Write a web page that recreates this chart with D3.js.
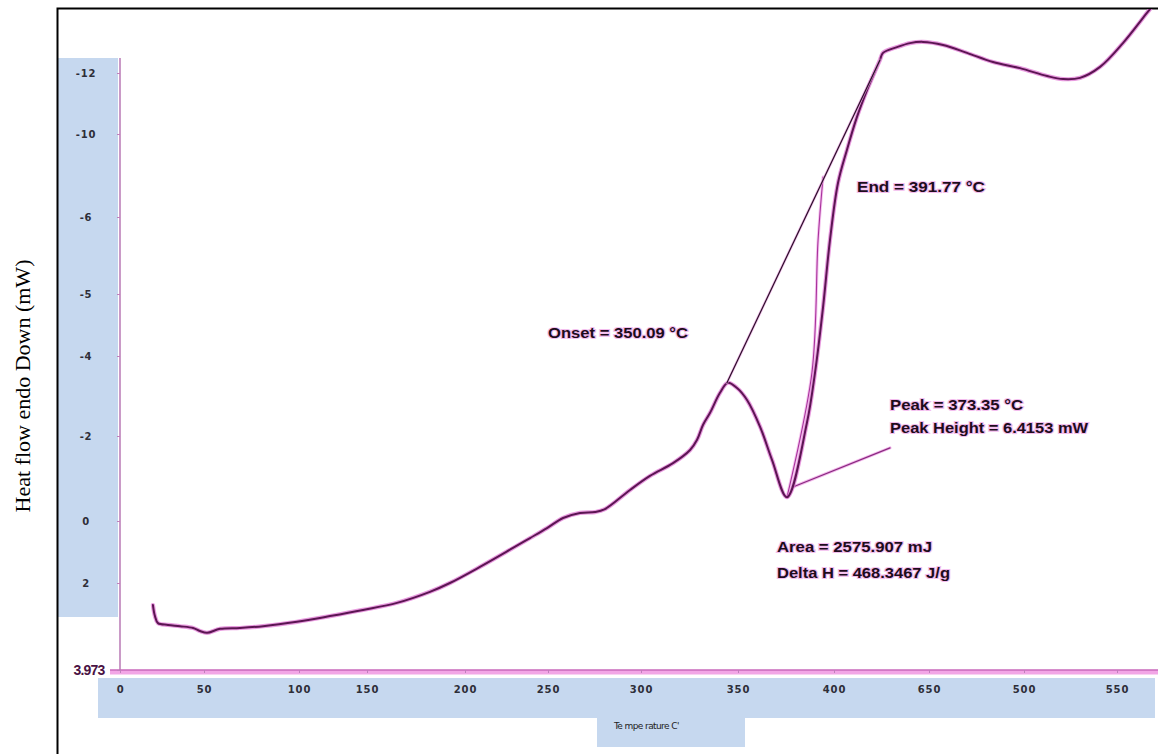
<!DOCTYPE html>
<html>
<head>
<meta charset="utf-8">
<script src="https://cdn.jsdelivr.net/npm/d3@7"></script>
<style>
  body { margin: 0; background: #fff; }
  svg { display: block; }
</style>
</head>
<body>
<div id="graph"></div>
<script>
//DSC trace: temperature (C) vs heat flow (mW)
const tempC = [19.6, 20.8, 22.6, 28.6, 35.7, 43.5, 47.6, 51.6, 58.4, 68.9, 81.1, 98.9, 122.8, 147.1, 165.3, 182.1, 192.3, 209.0, 228.9, 239.2, 249.4, 258.1, 267.2, 275.3, 280.6, 294.1, 304.6, 316.5, 325.3, 328.9, 332.0, 335.6, 340.7, 344.8, 349.5, 354.7, 361.5, 367.7, 375.5, 385.9, 390.1, 394.3, 397.9, 402.1, 406.8, 412.1, 417.4, 424.2, 425.8, 433.2, 440.0, 446.8, 457.4, 470.0, 483.7, 497.9, 512.4, 521.0, 530.1, 540.9, 553.2, 566.1, 570.4];
const heatFlow = [2.50, 2.75, 2.91, 2.95, 2.98, 3.02, 3.09, 3.13, 3.04, 3.02, 2.98, 2.88, 2.75, 2.61, 2.45, 2.20, 2.00, 1.48, 0.87, 0.55, 0.23, -0.07, -0.19, -0.21, -0.28, -0.73, -1.06, -1.36, -1.67, -1.91, -2.28, -2.58, -3.08, -3.33, -3.20, -2.90, -2.23, -1.44, -0.56, -2.33, -3.58, -4.79, -5.70, -7.64, -9.23, -10.56, -11.44, -12.43, -12.66, -12.85, -12.98, -13.02, -12.92, -12.66, -12.36, -12.16, -11.90, -11.80, -11.84, -12.20, -12.98, -13.97, -14.30];

//onset tangent, peak integration line, leader to the peak note
const tangentT = [344.3, 424.2];
const tangentHF = [-3.33, -12.43];
const endLineT = [375.5, 388.5, 391.7, 394.3];
const endLineHF = [-0.56, -3.58, -5.70, -7.93];
const leaderT = [378.6, 429.5];
const leaderHF = [-0.80, -1.72];

//notes
const noteText = ["Onset = 350.09 °C", "End = 391.77 °C", "Peak = 373.35 °C", "Peak Height = 6.4153 mW", "Area = 2575.907 mJ", "Delta H = 468.3467 J/g"];
const noteT = [250.0, 412.1, 429.5, 429.5, 370.3, 370.3];
const noteHF = [-4.29, -7.20, -2.65, -2.08, 1.00, 1.84];

//ticks (as printed on the scan)
const xTickValues = [0, 50, 100, 150, 200, 250, 300, 350, 400, 450, 500, 550];
const xTickLabels = ["0", "50", "100", "150", "200", "250", "300", "350", "400", "650", "500", "550"];
const yTickValues = [3.973, 2, 0, -2, -4, -5, -6, -10, -12];
const yTickLabels = ["3.973", "2", "0", "-2", "-4", "-5", "-6", "-10", "-12"];

//layout
const W = 1158;
const H = 754;
const xTickPos = [120, 204, 299, 367, 465, 548, 641, 738, 834, 929, 1024, 1117];
const yTickPos = [670, 583, 521, 436, 356, 294, 217, 134, 73];
const noteWidth = [140, 128, 133, 198, 155, 173];
const blue = "#c6d8ef";

//scales (the printed axes are not evenly spaced, so piecewise)
const xScale = d3.scaleLinear().domain(xTickValues).range(xTickPos);
const yScale = d3.scaleLinear().domain(yTickValues).range(yTickPos);

const chart = d3.select("#graph")
  .append("svg")
  .attr("width", W)
  .attr("height", H);

chart.append("defs").append("clipPath")
  .attr("id", "plotClip")
  .append("rect")
  .attr("x", 58).attr("y", 9)
  .attr("width", W - 58).attr("height", 700);

//blue label panels
chart.append("rect")
  .attr("x", 57).attr("y", 58)
  .attr("width", 61).attr("height", 559)
  .attr("fill", blue);
chart.append("rect")
  .attr("x", 98).attr("y", 678)
  .attr("width", 1057).attr("height", 40)
  .attr("fill", blue);
chart.append("rect")
  .attr("x", 597).attr("y", 717)
  .attr("width", 148).attr("height", 30)
  .attr("fill", blue);

//frame
chart.append("path")
  .attr("d", "M57.5," + H + "V8.5H" + W)
  .attr("fill", "none")
  .attr("stroke", "#000")
  .attr("stroke-width", 2);

//axis lines
chart.append("line")
  .attr("x1", 110).attr("x2", W)
  .attr("y1", yScale(3.973) + 2).attr("y2", yScale(3.973) + 2)
  .attr("stroke", "#f2a6e6")
  .attr("stroke-width", 5);
chart.append("line")
  .attr("x1", 110).attr("x2", W)
  .attr("y1", yScale(3.973)).attr("y2", yScale(3.973))
  .attr("stroke", "#b44aa6")
  .attr("stroke-width", 1);
chart.append("line")
  .attr("x1", xScale(0)).attr("x2", xScale(0))
  .attr("y1", 58).attr("y2", yScale(3.973))
  .attr("stroke", "#b878b4")
  .attr("stroke-width", 1.5);

//axes
const xAxis = d3.axisBottom(xScale)
  .tickValues(xTickValues)
  .tickFormat((d, i) => xTickLabels[i])
  .tickSizeInner(3)
  .tickSizeOuter(0)
  .tickPadding(13);
const yAxis = d3.axisLeft(yScale)
  .tickValues(yTickValues)
  .tickFormat((d, i) => yTickLabels[i])
  .tickSizeInner(3)
  .tickSizeOuter(0);

const gx = chart.append("g")
  .attr("id", "x-axis")
  .attr("transform", "translate(0," + yScale(3.973) + ")")
  .call(xAxis);
const gy = chart.append("g")
  .attr("id", "y-axis")
  .attr("transform", "translate(" + xScale(0) + ",0)")
  .call(yAxis);

[gx, gy].forEach(g => {
  g.select(".domain").remove();
  g.selectAll(".tick line").attr("stroke", "#c080bc");
  g.selectAll(".tick text")
    .attr("font-family", "DejaVu Sans, sans-serif")
    .attr("font-size", 10)
    .attr("font-weight", 600)
    .attr("letter-spacing", 0.8)
    .attr("fill", "#2e2e38");
});
gy.selectAll(".tick text")
  .attr("x", -34)
  .attr("text-anchor", "middle");
gy.selectAll(".tick text")
  .filter(d => d === 3.973)
  .attr("x", -31)
  .attr("font-family", "Liberation Sans, Arial, sans-serif")
  .attr("font-weight", "bold")
  .attr("font-size", 14)
  .attr("letter-spacing", -0.8)
  .attr("fill", "#4a1244");

//axis titles
chart.append("text")
  .text("Heat flow endo Down (mW)")
  .attr("transform", "translate(22,386) rotate(-90)")
  .attr("text-anchor", "middle")
  .attr("dominant-baseline", "central")
  .attr("font-family", "Liberation Serif, Times New Roman, serif")
  .attr("font-size", 22)
  .attr("fill", "#000");
chart.append("text")
  .text("Te mpe rature C'")
  .attr("x", 614).attr("y", 729)
  .attr("font-family", "DejaVu Sans, sans-serif")
  .attr("font-size", 9)
  .attr("letter-spacing", -0.6)
  .attr("fill", "#222");

//lines
const toPts = (ts, hs) => ts.map((t, i) => ({ t: t, hf: hs[i] }));
const line = d3.line()
  .x(d => xScale(d.t))
  .y(d => yScale(d.hf));
const smoothLine = d3.line()
  .x(d => xScale(d.t))
  .y(d => yScale(d.hf))
  .curve(d3.curveCatmullRom.alpha(0.5));

const plot = chart.append("g").attr("clip-path", "url(#plotClip)");

function trace(pts, gen, core, coreW, halo, haloW) {
  plot.append("path")
    .datum(pts)
    .attr("d", gen)
    .attr("fill", "none")
    .attr("stroke", halo)
    .attr("stroke-width", haloW)
    .attr("stroke-linejoin", "round")
    .attr("stroke-linecap", "round")
    .attr("opacity", 0.75);
  plot.append("path")
    .datum(pts)
    .attr("d", gen)
    .attr("fill", "none")
    .attr("stroke", core)
    .attr("stroke-width", coreW)
    .attr("stroke-linejoin", "round")
    .attr("stroke-linecap", "round");
}

trace(toPts(leaderT, leaderHF), line, "#8a2a80", 1.2, "#ee9fe4", 3);
trace(toPts(endLineT, endLineHF), smoothLine, "#a8329c", 1.1, "#f2b0ea", 3);
trace(toPts(tempC, heatFlow), smoothLine, "#5c1553", 2, "#e07ad4", 4.2);
trace(toPts(tangentT, tangentHF), line, "#2a1028", 1.2, "#e9a0e0", 2.6);

//notes
chart.selectAll(".note")
  .data(noteText)
  .enter()
  .append("text")
  .attr("class", "note")
  .text(d => d)
  .attr("x", (d, i) => xScale(noteT[i]))
  .attr("y", (d, i) => yScale(noteHF[i]))
  .attr("textLength", (d, i) => noteWidth[i])
  .attr("lengthAdjust", "spacingAndGlyphs")
  .attr("font-family", "Liberation Sans, Arial, sans-serif")
  .attr("font-weight", "bold")
  .attr("font-size", 14)
  .attr("fill", "#1e0c1c")
  .attr("stroke", "#f3bdee")
  .attr("stroke-width", 2.2)
  .attr("paint-order", "stroke");
</script>
</body>
</html>
